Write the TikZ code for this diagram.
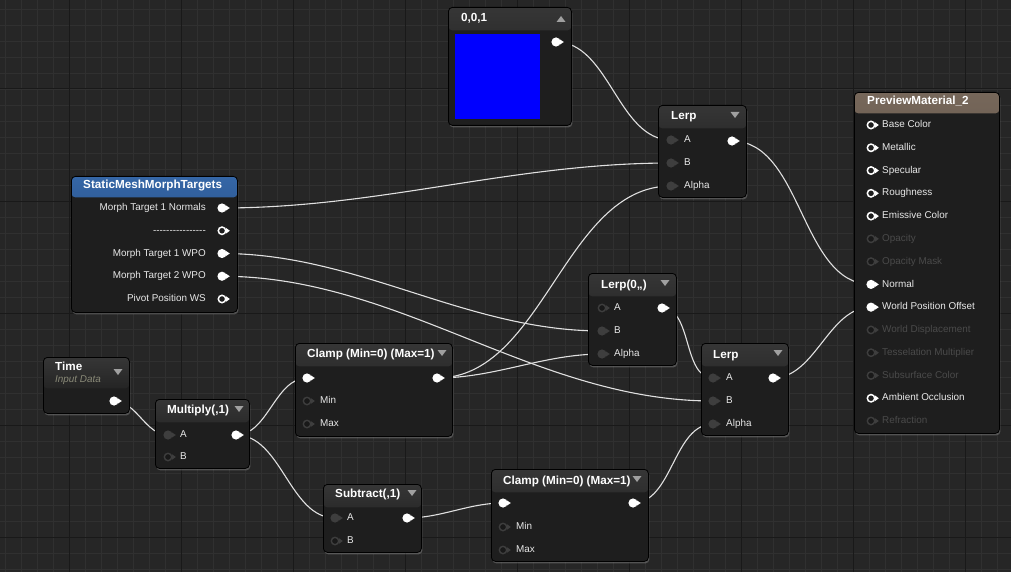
\documentclass[tikz,border=0pt]{standalone}
\usepackage{fontspec}
\setmainfont{Liberation Sans}
\usetikzlibrary{shadows}

\definecolor{uebg}{HTML}{262626}
\definecolor{uegrid}{HTML}{303030}
\definecolor{uebody}{HTML}{1E1E1E}
\definecolor{uehead1}{HTML}{363636}
\definecolor{uehead2}{HTML}{161616}
\definecolor{ueblue1}{HTML}{3566A6}
\definecolor{ueblue2}{HTML}{1A3C6C}
\definecolor{uebrown1}{HTML}{76675A}
\definecolor{uebrown2}{HTML}{3C332B}
\definecolor{uetext}{HTML}{E8E8E8}
\definecolor{uedim}{HTML}{4A4A4A}
\definecolor{uepin}{HTML}{3E3E3E}
\definecolor{uetri}{HTML}{A0A0A0}
\definecolor{uesub}{HTML}{8A8A78}

\pgfdeclarelayer{grid}
\pgfdeclarelayer{wires}
\pgfsetlayers{grid,wires,main}

\begin{document}
\begin{tikzpicture}[x=1pt, y=-1pt, font=\fontsize{9.9}{11}\selectfont]

\useasboundingbox (0,0) rectangle (1011,572);

% Set the look of the boxes and their headers
\tikzstyle{box}=[anchor=north west, rectangle, rounded corners=4pt, inner sep=0pt, fill=uebody, draw=black, line width=0.8pt, drop shadow={shadow xshift=1pt, shadow yshift=-2pt, opacity=0.5}]
\tikzset{head/.style n args={3}{path picture={\shade[top color=#1, bottom color=#2] (path picture bounding box.north west) rectangle ([yshift=-#3]path picture bounding box.north east);}}}
\tikzstyle{title}=[anchor=mid west, inner sep=0pt, text=white, font=\bfseries\fontsize{11.7}{13}\selectfont]
\tikzstyle{lbl}=[anchor=mid west, inner sep=0pt, text=uetext]
\tikzstyle{rlbl}=[lbl, anchor=mid east]
\tikzstyle{menu}=[fill=uetri]

% Define styles for pins: filled, ring, grey and dark
\tikzstyle{pin}=[rectangle, minimum width=18pt, minimum height=12pt, inner sep=0pt]
\tikzstyle{pin on}=[pin, path picture={\coordinate (pp) at (path picture bounding box.center);
  \fill[white] (pp) circle (4.6pt);
  \fill[white] ([xshift=3.8pt,yshift=2.7pt]pp) -- ([xshift=7.8pt]pp) -- ([xshift=3.8pt,yshift=-2.7pt]pp) -- cycle;}]
\tikzstyle{pin ring}=[pin, path picture={\coordinate (pp) at (path picture bounding box.center);
  \draw[white, line width=1.5pt, fill=uebody] (pp) circle (3.7pt);
  \fill[white] ([xshift=4.2pt,yshift=2.7pt]pp) -- ([xshift=7.8pt]pp) -- ([xshift=4.2pt,yshift=-2.7pt]pp) -- cycle;}]
\tikzstyle{pin grey}=[pin, path picture={\coordinate (pp) at (path picture bounding box.center);
  \fill[uepin] (pp) circle (4.6pt);
  \fill[uepin] ([xshift=3.8pt,yshift=2.7pt]pp) -- ([xshift=7.8pt]pp) -- ([xshift=3.8pt,yshift=-2.7pt]pp) -- cycle;}]
\tikzstyle{pin dim}=[pin, path picture={\coordinate (pp) at (path picture bounding box.center);
  \draw[uepin, line width=1.4pt, fill=black!90] (pp) circle (3.7pt);
  \fill[uepin] ([xshift=4.2pt,yshift=2.7pt]pp) -- ([xshift=7.8pt]pp) -- ([xshift=4.2pt,yshift=-2.7pt]pp) -- cycle;}]

\tikzstyle{wire}=[draw=white!88!black, line width=1.1pt, out=0, in=180, looseness=0.9]

% Background grid
\begin{pgfonlayer}{grid}
\fill[uebg] (0,0) rectangle (1011,572);
\foreach \x in {5,21,...,1011} \draw[uegrid, line width=0.6pt] (\x,0) -- (\x,572);
\foreach \y in {9,25,...,572} \draw[uegrid, line width=0.6pt] (0,\y) -- (1011,\y);
\foreach \x in {69,181,...,1011} \draw[black!90, line width=1pt] (\x,0) -- (\x,572);
\foreach \y in {89,201,...,572} \draw[black!90, line width=1pt] (0,\y) -- (1011,\y);
\end{pgfonlayer}

% Constant vector
\node[box, head={uehead1}{uehead2}{23pt}, minimum width=123pt, minimum height=118pt] (cst) at (448,7) {};
\node[title] (cst-title) at (461,19) {0,0,1};
\node[anchor=north west, fill=blue, minimum size=85pt, inner sep=0pt] (cst-color) at (455,34) {};
\node[pin on] (cst-out) at (556,42) {};
\fill[menu] (556.5,22) -- (565.5,22) -- (561,16) -- cycle;

% Lerp for the normal
\node[box, head={uehead1}{uehead2}{23pt}, minimum width=88pt, minimum height=92pt] (lt) at (658,105) {};
\node[title] (lt-title) at (671,117) {Lerp};
\node[pin grey] (lt-a) at (671,140) {};
\node[pin grey] (lt-b) at (671,163) {};
\node[pin grey] (lt-al) at (671,186) {};
\node[lbl] (lt-la) at (684,140) {A};
\node[lbl] (lt-lb) at (684,163) {B};
\node[lbl] (lt-lal) at (684,186) {Alpha};
\node[pin on] (lt-out) at (732,141) {};

% Morph targets
\node[box, head={ueblue1}{ueblue2}{21pt}, minimum width=166pt, minimum height=136pt] (smmt) at (71,176) {};
\node[title] (smmt-title) at (83,186) {StaticMeshMorphTargets};
\foreach \t/\s [count=\i] in {Morph Target 1 Normals/pin on, -{}-{}-{}-{}-{}-{}-{}-{}-{}-{}-{}-{}-{}-{}-{}-/pin ring,
    Morph Target 1 WPO/pin on, Morph Target 2 WPO/pin on, Pivot Position WS/pin ring}
{
  \node[rlbl] (smmt-l\i) at (206,{208+22.75*(\i-1)}) {\t};
  \node[style=\s] (smmt-\i) at (222,{208+22.75*(\i-1)}) {};
}

% Material output
\node[box, head={uebrown1}{uebrown2}{21pt}, minimum width=145pt, minimum height=341pt] (pm) at (854,92) {};
\node[title] (pm-title) at (867,102) {PreviewMaterial\_2};
\foreach \t/\s/\c [count=\i] in {Base Color/pin ring/uetext, Metallic/pin ring/uetext, Specular/pin ring/uetext,
    Roughness/pin ring/uetext, Emissive Color/pin ring/uetext, Opacity/pin dim/uedim, Opacity Mask/pin dim/uedim,
    Normal/pin on/uetext, World Position Offset/pin on/uetext, World Displacement/pin dim/uedim,
    Tesselation Multiplier/pin dim/uedim, Subsurface Color/pin dim/uedim, Ambient Occlusion/pin ring/uetext,
    Refraction/pin dim/uedim}
{
  \node[style=\s] (pm-\i) at (871,{125+22.77*(\i-1)}) {};
  \node[lbl, text=\c] (pm-l\i) at (882,{125+22.77*(\i-1)}) {\t};
}

% Lerp between the two offsets
\node[box, head={uehead1}{uehead2}{23pt}, minimum width=88pt, minimum height=92pt] (lm) at (588,273) {};
\node[title] (lm-title) at (601,286) {Lerp(0,,)};
\node[pin dim] (lm-a) at (602,308) {};
\node[pin grey] (lm-b) at (602,331) {};
\node[pin grey] (lm-al) at (602,354) {};
\node[lbl] (lm-la) at (614,308) {A};
\node[lbl] (lm-lb) at (614,331) {B};
\node[lbl] (lm-lal) at (614,354) {Alpha};
\node[pin on] (lm-out) at (662,308) {};

% Lerp for the position offset
\node[box, head={uehead1}{uehead2}{23pt}, minimum width=87pt, minimum height=92pt] (lb) at (701,343) {};
\node[title] (lb-title) at (713,356) {Lerp};
\node[pin grey] (lb-a) at (713,378) {};
\node[pin grey] (lb-b) at (713,401) {};
\node[pin grey] (lb-al) at (713,424) {};
\node[lbl] (lb-la) at (726,378) {A};
\node[lbl] (lb-lb) at (726,401) {B};
\node[lbl] (lb-lal) at (726,424) {Alpha};
\node[pin on] (lb-out) at (773,378) {};

% Time input
\node[box, head={uehead1}{uehead2}{31pt}, minimum width=86pt, minimum height=56pt] (time) at (43,357) {};
\node[title] (time-title) at (55,368) {Time};
\node[lbl, text=uesub, font=\itshape\fontsize{9.9}{11}\selectfont] (time-sub) at (55,380) {Input Data};
\node[pin on] (time-out) at (114,401) {};

% Multiply
\node[box, head={uehead1}{uehead2}{23pt}, minimum width=94pt, minimum height=69pt] (mul) at (155,399) {};
\node[title] (mul-title) at (167,411) {Multiply(,1)};
\node[pin grey] (mul-a) at (168,435) {};
\node[pin dim] (mul-b) at (168,457) {};
\node[lbl] (mul-la) at (180,435) {A};
\node[lbl] (mul-lb) at (180,457) {B};
\node[pin on] (mul-out) at (236,435) {};

% First clamp
\node[box, head={uehead1}{uehead2}{23pt}, minimum width=157pt, minimum height=93pt] (c1) at (295,343) {};
\node[title] (c1-title) at (307,355) {Clamp (Min=0) (Max=1)};
\node[pin on] (c1-in) at (307,378) {};
\node[pin on] (c1-out) at (437,378) {};
\node[pin dim] (c1-min) at (307,401) {};
\node[pin dim] (c1-max) at (307,424) {};
\node[lbl] (c1-lmin) at (320,401) {Min};
\node[lbl] (c1-lmax) at (320,424) {Max};

% Subtract
\node[box, head={uehead1}{uehead2}{23pt}, minimum width=98pt, minimum height=68pt] (sub) at (323,484) {};
\node[title] (sub-title) at (335,495) {Subtract(,1)};
\node[pin grey] (sub-a) at (335,518) {};
\node[pin dim] (sub-b) at (335,541) {};
\node[lbl] (sub-la) at (347,518) {A};
\node[lbl] (sub-lb) at (347,541) {B};
\node[pin on] (sub-out) at (407,518) {};

% Second clamp
\node[box, head={uehead1}{uehead2}{23pt}, minimum width=157pt, minimum height=92pt] (c2) at (491,469) {};
\node[title] (c2-title) at (503,482) {Clamp (Min=0) (Max=1)};
\node[pin on] (c2-in) at (503,503) {};
\node[pin on] (c2-out) at (633,503) {};
\node[pin dim] (c2-min) at (503,527) {};
\node[pin dim] (c2-max) at (503,550) {};
\node[lbl] (c2-lmin) at (516,527) {Min};
\node[lbl] (c2-lmax) at (516,550) {Max};

% Menu arrows in the headers
\foreach \x/\y in {735/115, 665/283, 778/353, 442/353, 239/409, 412/493, 118/372, 637/479}
  \fill[menu] (\x-4.5,\y-3) -- (\x+4.5,\y-3) -- (\x,\y+3) -- cycle;

% Wires
\begin{pgfonlayer}{wires}
\draw[wire] (cst-out.center) to (lt-a.center);
\draw[wire] (smmt-1.center) to (lt-b.center);
\draw[wire] (c1-out.center) to (lt-al.center);
\draw[wire] (c1-out.center) to (lm-al.center);
\draw[wire] (smmt-3.center) to (lm-b.center);
\draw[wire] (smmt-4.center) to (lb-b.center);
\draw[wire] (lm-out.center) to (lb-a.center);
\draw[wire] (c2-out.center) to (lb-al.center);
\draw[wire] (lt-out.center) to (pm-8.center);
\draw[wire] (lb-out.center) to (pm-9.center);
\draw[wire] (time-out.center) to (mul-a.center);
\draw[wire] (mul-out.center) to (c1-in.center);
\draw[wire] (mul-out.center) to (sub-a.center);
\draw[wire] (sub-out.center) to (c2-in.center);
\end{pgfonlayer}

\end{tikzpicture}
\end{document}
